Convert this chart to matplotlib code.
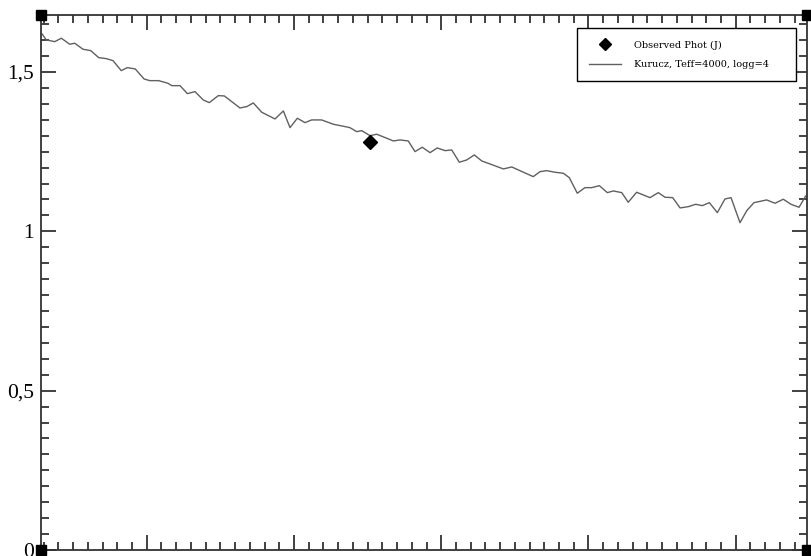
import matplotlib
matplotlib.use("Agg")
import matplotlib.pyplot as plt
from matplotlib.ticker import MultipleLocator, FixedLocator, FuncFormatter

# Model spectrum (Kurucz, Teff=4000, logg=4): wavelength (micron) vs flux
model_wave = [1.0289, 1.0318, 1.0375, 1.0420, 1.0477, 1.0511, 1.0567, 1.0620, 1.0674, 1.0725,
              1.0771, 1.0827, 1.0868, 1.0922, 1.0982, 1.1020, 1.1081, 1.1144, 1.1170, 1.1226,
              1.1276, 1.1328, 1.1384, 1.1425, 1.1486, 1.1527, 1.1633, 1.1679, 1.1724, 1.1781,
              1.1871, 1.1928, 1.1973, 1.2023, 1.2075, 1.2120, 1.2188, 1.2267, 1.2335, 1.2380,
              1.2426, 1.2460, 1.2516, 1.2562, 1.2630, 1.2675, 1.2720, 1.2776, 1.2822, 1.2871,
              1.2924, 1.2973, 1.3026, 1.3071, 1.3123, 1.3173, 1.3225, 1.3275, 1.3331, 1.3422,
              1.3479, 1.3625, 1.3671, 1.3716, 1.3773, 1.3829, 1.3870, 1.3924, 1.3976, 1.4022,
              1.4074, 1.4128, 1.4169, 1.4226, 1.4270, 1.4327, 1.4418, 1.4474, 1.4520, 1.4572,
              1.4622, 1.4678, 1.4728, 1.4773, 1.4821, 1.4875, 1.4927, 1.4968, 1.5029, 1.5075,
              1.5124, 1.5210, 1.5267, 1.5323, 1.5375, 1.5430, 1.5475, 1.5484]
model_flux = [1.6196, 1.6008, 1.5954, 1.6061, 1.5873, 1.5904, 1.5716, 1.5672, 1.5452, 1.5421,
              1.5358, 1.5044, 1.5138, 1.5097, 1.4783, 1.4730, 1.4730, 1.4648, 1.4573, 1.4573,
              1.4322, 1.4385, 1.4124, 1.4040, 1.4259, 1.4250, 1.3873, 1.3914, 1.4030, 1.3738,
              1.3528, 1.3779, 1.3255, 1.3550, 1.3412, 1.3497, 1.3497, 1.3362, 1.3299, 1.3255,
              1.3129, 1.3161, 1.3004, 1.3048, 1.2922, 1.2837, 1.2869, 1.2837, 1.2502, 1.2640,
              1.2470, 1.2618, 1.2533, 1.2555, 1.2169, 1.2241, 1.2398, 1.2210, 1.2115, 1.1959,
              1.2021, 1.1717, 1.1874, 1.1905, 1.1855, 1.1824, 1.1685, 1.1196, 1.1372, 1.1372,
              1.1434, 1.1215, 1.1268, 1.1215, 1.0913, 1.1227, 1.1058, 1.1215, 1.1070, 1.1058,
              1.0735, 1.0775, 1.0850, 1.0807, 1.0901, 1.0587, 1.1017, 1.1058, 1.0273, 1.0650,
              1.0901, 1.0986, 1.0882, 1.1008, 1.0850, 1.0756, 1.1111, 1.1130]

# Observed photometry (J)
obs_wave = [1.2516]
obs_flux = [1.2806]

ytick_values = [0, 0.5, 1, 1.5]
ytick_labels = ["0", "0,5", "1", "1,5"]

fig = plt.figure(figsize=(8.12, 5.56), dpi=100)
ax = fig.add_axes([41 / 812, 6 / 556, 766 / 812, 535 / 556])

line_model, = ax.plot(model_wave, model_flux, color="#606060", lw=1.0,
                      label="Kurucz, Teff=4000, logg=4")
pts_obs, = ax.plot(obs_wave, obs_flux, linestyle="none", marker="D", ms=7,
                   color="black", label="Observed Phot (J)")

ax.set_xlim(1.0282, 1.5484)
ax.set_ylim(0, 1.679)

ax.xaxis.set_major_locator(MultipleLocator(0.1))
ax.xaxis.set_minor_locator(MultipleLocator(0.01))
ax.yaxis.set_major_locator(FixedLocator(ytick_values))
ax.yaxis.set_minor_locator(MultipleLocator(0.05))
ax.yaxis.set_major_formatter(FuncFormatter(
    lambda v, p: dict(zip(ytick_values, ytick_labels)).get(round(v, 2), "")))

ax.tick_params(axis="both", which="both", direction="in", top=True, right=True,
               color="#333333", width=1.3)
ax.tick_params(axis="both", which="major", length=11)
ax.tick_params(axis="both", which="minor", length=5.5)
ax.tick_params(axis="x", which="both", labelbottom=False)
ax.tick_params(axis="y", which="major", pad=5, labelsize=15.5)
for lab in ax.get_yticklabels():
    lab.set_fontfamily("Liberation Serif")

for sp in ax.spines.values():
    sp.set_color("#333333")
    sp.set_linewidth(1.3)

# corner handles
for cx, cy in [(0, 0), (1, 0), (0, 1), (1, 1)]:
    ax.plot([cx], [cy], marker="s", ms=6.5, color="black", transform=ax.transAxes,
            clip_on=False, zorder=10)

leg = ax.legend(handles=[pts_obs, line_model], loc="upper left",
                bbox_to_anchor=((577 - 41) / 766, 1 - 14 / 535, (796 - 577) / 766, 0.001),
                mode="expand",
                prop={"family": "DejaVu Serif", "size": 7},
                frameon=True, fancybox=False, framealpha=1, edgecolor="black",
                handlelength=3.3, handletextpad=1.3, borderpad=1.25,
                labelspacing=1.05, borderaxespad=0)
leg.get_frame().set_linewidth(1.0)
leg.legend_handles[0].set_markersize(6)

fig.savefig("out.png", dpi=100)
